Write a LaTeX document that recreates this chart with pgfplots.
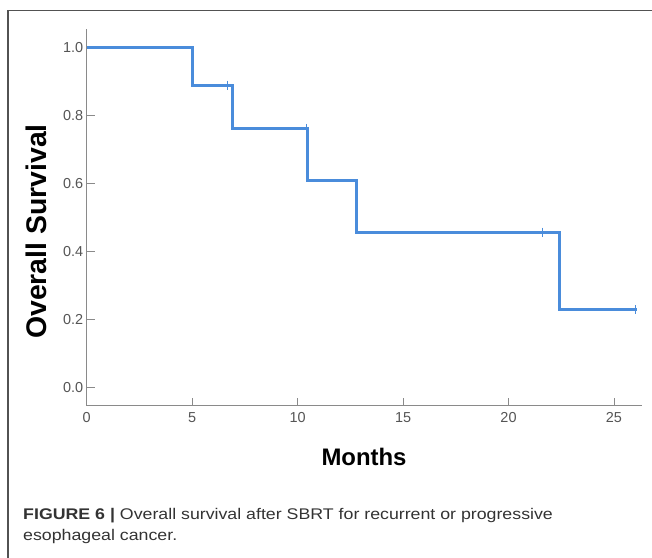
\documentclass[border=0pt]{standalone}
\usepackage{fontspec}
\setmainfont{Liberation Sans}
\usepackage{pgfplots}
\pgfplotsset{compat=1.18}
\definecolor{kmblue}{HTML}{4A8CDB}
\definecolor{axgray}{HTML}{8A8A8A}
\definecolor{lblgray}{HTML}{555555}
\definecolor{capgray}{HTML}{333333}
\begin{document}
\begin{tikzpicture}
\useasboundingbox (0,0) rectangle (652bp,558bp);
\draw[draw=capgray!85, line width=1.1bp] (8bp,0) -- (8bp,547.6bp) -- (652bp,547.6bp);
\begin{axis}[
  at={(86.7bp,152.3bp)}, anchor=south west,
  scale only axis, width=555.3bp, height=376.4bp,
  xmin=0, xmax=26.33, ymin=-0.0535, ymax=1.0535,
  axis lines=left,
  axis line style={-, draw=axgray, line width=0.9bp},
  xtick={0,5,10,15,20,25},
  ytick={0,0.2,0.4,0.6,0.8,1.0},
  tick align=inside, xtick pos=bottom, ytick pos=left,
  major tick length=8bp,
  tick style={draw=axgray, line width=0.7bp},
  /pgf/number format/assume math mode=true,
  ticklabel style={font=\fontsize{14.5}{14.5}\selectfont, text=lblgray},
  yticklabel style={/pgf/number format/fixed, /pgf/number format/fixed zerofill, /pgf/number format/precision=1},
  xticklabel style={yshift=-3bp},
  clip=false,
]
\addplot[const plot, draw=kmblue, line width=3bp] coordinates {
  (0,1.0) (5.04,0.889) (6.89,0.762) (10.45,0.610) (12.8,0.457) (22.44,0.229) (26.1,0.229)
};
\addplot[only marks, mark=|, mark size=4.5bp, draw=kmblue, mark options={line width=0.9bp}] coordinates {
  (6.65,0.889) (10.4,0.762) (21.63,0.457) (26.04,0.229)
};
\end{axis}
\node[font=\fontsize{24}{24}\selectfont\bfseries] at (364bp,101bp) {Months};
\node[font=\fontsize{28.5}{28.5}\selectfont\bfseries, rotate=90] at (36bp,326.5bp) {Overall Survival};
\node[anchor=base west, inner sep=0, xscale=1.15, font=\fontsize{15.5}{15.5}\selectfont, text=capgray] at (23bp,39bp) {\textbf{FIGURE 6 |} Overall survival after SBRT for recurrent or progressive};
\node[anchor=base west, inner sep=0, xscale=1.15, font=\fontsize{15.5}{15.5}\selectfont, text=capgray] at (23bp,18bp) {esophageal cancer.};
\end{tikzpicture}
\end{document}
